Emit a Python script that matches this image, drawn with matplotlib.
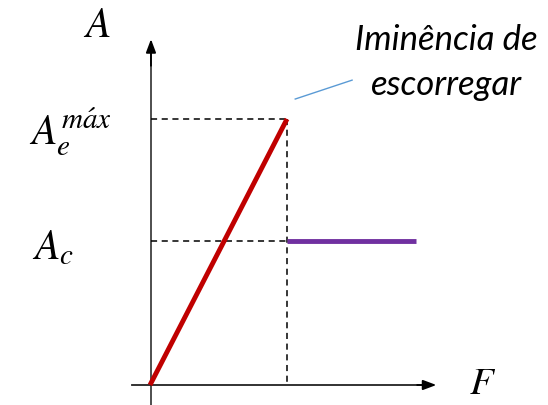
import matplotlib
matplotlib.use("Agg")
import matplotlib.pyplot as plt

plt.rcParams['mathtext.fontset'] = 'stix'

# conceptual data (F, A)
F_slip = 1.0
A_e_max = 1.0
A_c = 0.541
F_end = 1.94
static_F = [0.0, F_slip]
static_A = [0.0, A_e_max]
kinetic_F = [F_slip, F_end]
kinetic_A = [A_c, A_c]
annotation_lines = ["Iminência de", "escorregar"]

fig = plt.figure(figsize=(5.48, 4.06), dpi=100)
ax = fig.add_axes([0, 0, 1, 1])
ax.set_xlim(-1.095, 2.905)
ax.set_ylim(-0.0752, 1.451)
ax.axis('off')

axis_color = '#404040'
ax_x = 0.007
# axes with arrows
ax.plot([ax_x, ax_x], [-0.08, 1.25], color=axis_color, lw=1.3, zorder=1)
ax.annotate('', xy=(ax_x, 1.30), xytext=(ax_x, 1.20),
            arrowprops=dict(arrowstyle='-|>,head_length=0.8,head_width=0.3',
                            color='black', lw=1.3, shrinkA=0, shrinkB=0))
ax.plot([-0.13, 2.02], [0.0, 0.0], color='#222222', lw=1.3, zorder=1)
ax.annotate('', xy=(2.09, 0.0), xytext=(1.95, 0.0),
            arrowprops=dict(arrowstyle='-|>,head_length=0.8,head_width=0.3',
                            color='black', lw=1.3, shrinkA=0, shrinkB=0))

# dashed guides
dash = dict(color='black', lw=1.1, ls=(0, (4, 3)), zorder=2)
ax.plot([ax_x, F_slip], [A_e_max, A_e_max], **dash)
ax.plot([F_slip, F_slip], [A_e_max, 0.0], **dash)
ax.plot([ax_x, F_slip], [A_c, A_c], **dash)

# data lines
ax.plot(static_F, static_A, color='#C00000', lw=3.5, solid_capstyle='butt', zorder=3)
ax.plot(kinetic_F, kinetic_A, color='#7030A0', lw=3.5, solid_capstyle='butt', zorder=3)

# annotation line
ax.plot([1.06, 1.475], [1.075, 1.146], color='#5B9BD5', lw=1.0, zorder=3)
ax.text(2.16, 1.263, annotation_lines[0], ha='center', va='baseline', fontsize=25,
        style='italic', family='Lato')
ax.text(2.165, 1.094, annotation_lines[1], ha='center', va='baseline', fontsize=25,
        style='italic', family='Lato')

# labels
ax.text(-0.387, 1.357, r'$A$', ha='center', va='center', fontsize=30)
ax.text(2.43, 0.012, r'$F$', ha='center', va='center', fontsize=28)
ax.text(-0.584, 0.955, r"$A_e^{m\acute{a}x}$", ha='center', va='center', fontsize=30)
ax.text(-0.708, 0.523, r'$A_c$', ha='center', va='center', fontsize=30)

fig.savefig('out.png', dpi=100)
